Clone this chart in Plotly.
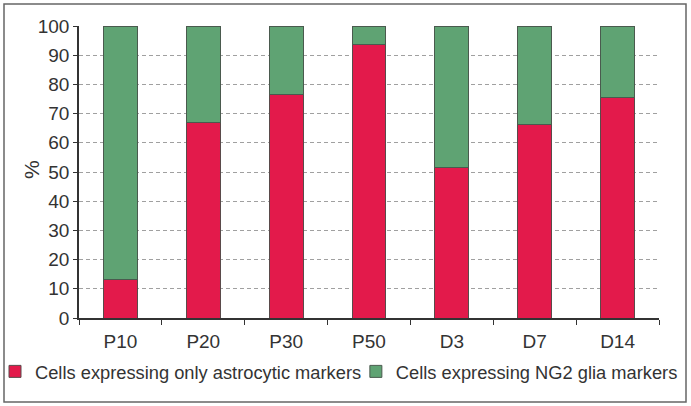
import plotly.graph_objects as go

categories = ['P10', 'P20', 'P30', 'P50', 'D3', 'D7', 'D14']
astro = [13.3, 66.9, 76.7, 93.5, 51.7, 66.3, 75.4]
ng2 = [100 - v for v in astro]

W, H = 691, 406
ml, mr, mt, mb = 79, 32, 26, 88

fig = go.Figure()
fig.add_trace(go.Bar(
    x=categories, y=astro, name='Cells expressing only astrocytic markers',
    marker=dict(color='#E31A4B', line=dict(color='#5a4a4a', width=1)),
    legend='legend', showlegend=True,
))
fig.add_trace(go.Bar(
    x=categories, y=ng2, name='Cells expressing NG2 glia markers',
    marker=dict(color='#5FA373', line=dict(color='#4a5a4e', width=1)),
    legend='legend2', showlegend=True,
))

# outer frame
pw, ph = W - ml - mr, H - mt - mb
fig.add_shape(type='rect', xref='paper', yref='paper',
              x0=(4 - ml) / pw, x1=(686 - ml) / pw,
              y0=(H - mb - 402) / ph, y1=(H - mb - 4) / ph,
              line=dict(color='#666666', width=1.5), layer='below')

font = 'Liberation Sans, Arial, sans-serif'

# y-axis title as annotation so it sits where the original does
fig.add_annotation(text='%', xref='paper', yref='paper',
                   x=(31 - ml) / pw, y=(H - mb - 170) / ph,
                   xanchor='center', yanchor='middle',
                   textangle=-90, showarrow=False,
                   font=dict(size=21, family=font, color='#333333'))

leg = dict(orientation='h', xref='container', yref='container',
           yanchor='middle', xanchor='left', y=0.085,
           font=dict(size=18.3, family=font, color='#333333'),
           itemwidth=30, bgcolor='rgba(0,0,0,0)')

fig.update_layout(
    barmode='stack', bargap=0.59,
    width=W, height=H,
    margin=dict(l=ml, r=mr, t=mt, b=mb, autoexpand=False),
    plot_bgcolor='white', paper_bgcolor='white',
    font=dict(family=font, size=19, color='#333333'),
    xaxis=dict(showline=True, linecolor='#333333', linewidth=1.5,
               ticks='outside', tickson='boundaries', ticklen=5,
               tickcolor='#333333', showgrid=False,
               tickfont=dict(size=19), ticklabelstandoff=5),
    yaxis=dict(range=[0, 100], dtick=10, showline=True, linecolor='#333333',
               linewidth=1.5, ticks='outside', ticklen=4, tickcolor='#333333',
               gridcolor='#a0a0a0', griddash='4px,3px', gridwidth=1,
               zeroline=False, tickfont=dict(size=19)),
    legend=dict(leg, x=0.0, indentation=-5),
    legend2=dict(leg, x=0.515),
)

fig.write_html('out.html', config={'displayModeBar': False},
               post_script="document.body.style.margin='0';")
